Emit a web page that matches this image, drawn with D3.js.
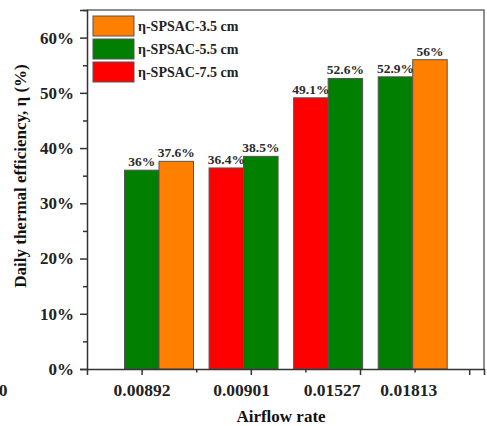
<!DOCTYPE html>
<html>
<head>
<meta charset="utf-8">
<script src="https://cdn.jsdelivr.net/npm/d3@7"></script>
<style>
  html, body { margin: 0; padding: 0; background: #fff; }
  svg { display: block; }
  text { font-family: "Liberation Serif", "Times New Roman", serif; font-weight: bold; }
</style>
</head>
<body>
<svg id="chart" width="487" height="426"></svg>
<script>
// Airflow rates (x categories)
const categories = ["0.00892", "0.00901", "0.01527", "0.01813"];
// Daily thermal efficiency (%) per absorber depth; null = not measured at that rate
const seriesNames = ["η-SPSAC-3.5 cm", "η-SPSAC-5.5 cm", "η-SPSAC-7.5 cm"];
const eff35 = [37.6, null, null, 56];
const eff55 = [36, 38.5, 52.6, 52.9];
const eff75 = [null, 36.4, 49.1, null];
const yTicks = [0, 10, 20, 30, 40, 50, 60];
const yMinorTicks = [5, 15, 25, 35, 45, 55, 65];

const seriesValues = [eff35, eff55, eff75];
const colors = ["#ff8000", "#007f00", "#ff0000"];

// Layout
const L = 87, R = 484, T = 10, B = 369;
const svg = d3.select("#chart");

const y = d3.scaleLinear().domain([0, 65]).range([B, T]);

// Group positions along the x axis
const xGroup = d3.scaleBand().domain(categories).range([124.5, 447.2]).paddingInner(0.184).paddingOuter(0);
const xSlot = d3.scaleBand().domain([0, 1]).range([0, xGroup.bandwidth()]);

// Tick lattice of the x axis (major/minor alternating)
const xTickScale = d3.scaleLinear().domain([0, (R - L) / 54.6]).range([L, R]);
const labelNudge = [-17, -2, 4, -4];

// Bars: in each group, present series ordered from deepest to shallowest
const bars = [];
categories.forEach((c, gi) => {
  const present = [2, 1, 0].filter(si => seriesValues[si][gi] != null);
  present.forEach((si, slot) => bars.push({ cat: c, slot, si, v: seriesValues[si][gi] }));
});

svg.append("g").selectAll("rect").data(bars).join("rect")
  .attr("x", d => xGroup(d.cat) + xSlot(d.slot))
  .attr("y", d => y(d.v))
  .attr("width", xSlot.bandwidth())
  .attr("height", d => y(0) - y(d.v))
  .attr("fill", d => colors[d.si])
  .attr("stroke", "#555")
  .attr("stroke-width", 1);

svg.append("g").selectAll("text").data(bars).join("text")
  .attr("x", d => xGroup(d.cat) + xSlot(d.slot) + xSlot.bandwidth() / 2)
  .attr("y", d => y(d.v) - 4)
  .attr("text-anchor", "middle")
  .attr("font-size", 13.5)
  .attr("fill", "#2a2a2a")
  .text(d => d.v + "%");

// Frame (top and right)
svg.append("path")
  .attr("d", `M${L},${T}H${R}V${B}`)
  .attr("fill", "none").attr("stroke", "#6a6a6a").attr("stroke-width", 1.5);

// Y axis
const yAxis = svg.append("g").attr("transform", `translate(${L},0)`)
  .call(d3.axisLeft(y).tickValues(yTicks).tickSize(7).tickPadding(6).tickFormat(d => d + "%"));
svg.append("g").attr("transform", `translate(${L},0)`)
  .call(d3.axisLeft(y).tickValues(yMinorTicks).tickSize(4).tickFormat(""))
  .call(g => g.select(".domain").remove());
yAxis.selectAll("text").attr("font-size", 17).attr("fill", "#222")
  .attr("font-family", "Liberation Serif, serif").attr("font-weight", "bold");

// X axis
const xMajor = [1, 3, 5, 7];
const xMinor = [2, 4, 6];
svg.append("g").attr("transform", `translate(0,${B})`)
  .call(d3.axisBottom(xTickScale).tickValues(xMajor).tickSize(6).tickFormat(""));
svg.append("g").attr("transform", `translate(0,${B})`)
  .call(d3.axisBottom(xTickScale).tickValues(xMinor).tickSize(3.5).tickFormat(""))
  .call(g => g.select(".domain").remove());

svg.selectAll(".domain, .tick line").attr("stroke", "#333").attr("stroke-width", 1.5);
svg.selectAll(".domain").attr("d", function () { return d3.select(this).attr("d"); });

svg.append("g").selectAll("text").data(categories).join("text")
  .attr("x", (c, i) => xGroup(c) + xGroup.bandwidth() / 2 + labelNudge[i])
  .attr("y", 396)
  .attr("text-anchor", "middle")
  .attr("font-size", 17.5)
  .attr("fill", "#222")
  .text(d => d);

// Stray tick label at far left
svg.append("text").attr("x", 7.5).attr("y", 396).attr("text-anchor", "end")
  .attr("font-size", 17.5).attr("fill", "#222").text("0");

// Axis titles
svg.append("text").attr("x", 281).attr("y", 421.5).attr("text-anchor", "middle")
  .attr("font-size", 17).attr("fill", "#111").text("Airflow rate");
svg.append("text").attr("transform", "translate(26,176) rotate(-90)").attr("text-anchor", "middle")
  .attr("font-size", 17).attr("fill", "#111").text("Daily thermal efficiency, η (%)");

// Legend
const legend = svg.append("g").selectAll("g").data(seriesNames).join("g")
  .attr("transform", (d, i) => `translate(93,${16 + i * 23})`);
legend.append("rect").attr("width", 41).attr("height", 20)
  .attr("fill", (d, i) => colors[i]).attr("stroke", "#555").attr("stroke-width", 1);
legend.append("text").attr("x", 45).attr("y", 14.5).attr("font-size", 14)
  .attr("fill", "#222").text(d => d);
</script>
</body>
</html>
